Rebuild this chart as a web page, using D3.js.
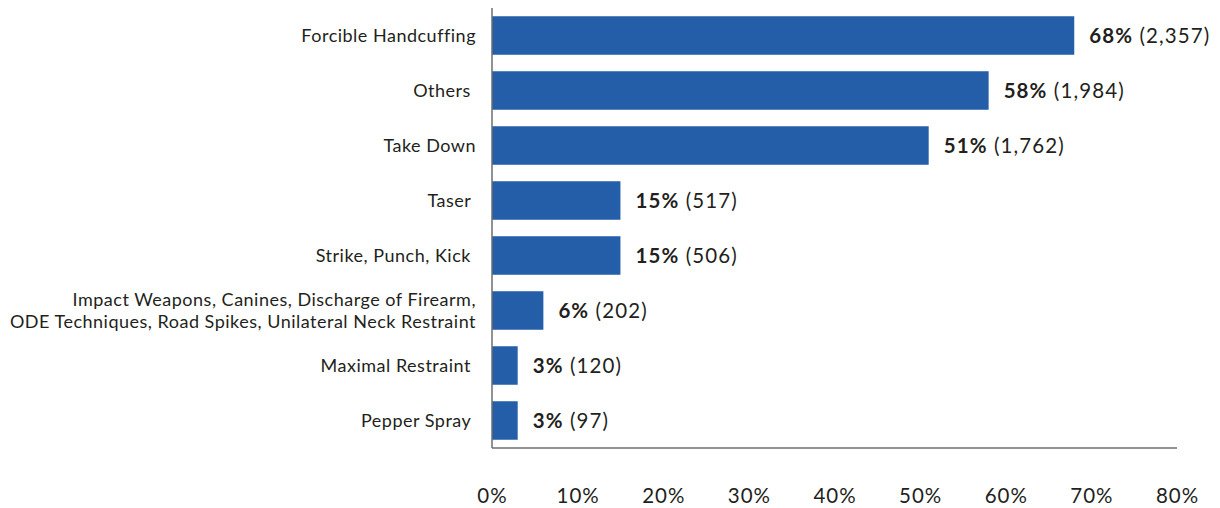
<!DOCTYPE html>
<html>
<head>
<meta charset="utf-8">
<script src="https://cdn.jsdelivr.net/npm/d3@7/dist/d3.min.js"></script>
<style>
  html, body { margin: 0; padding: 0; background: #fff; }
  svg text { font-family: Lato, "Noto Sans", sans-serif; fill: #231f20; white-space: pre; }
</style>
</head>
<body>
<svg id="chart" width="1220" height="508"></svg>
<script>
// Use-of-force types, share of incidents and counts
const categories = [
  "Forcible Handcuffing",
  "Others ",
  "Take Down",
  "Taser ",
  "Strike, Punch, Kick ",
  "Impact Weapons, Canines, Discharge of Firearm,\nODE Techniques, Road Spikes, Unilateral Neck Restraint",
  "Maximal Restraint ",
  "Pepper Spray "
];
const percents = [68, 58, 51, 15, 15, 6, 3, 3];
const counts = [2357, 1984, 1762, 517, 506, 202, 120, 97];
const tickValues = [0, 10, 20, 30, 40, 50, 60, 70, 80];

const svg = d3.select("#chart");
const plotLeft = 492, plotRight = 1177, plotTop = 8, plotBottom = 448;

const x = d3.scaleLinear().domain([0, 80]).range([plotLeft, plotRight]);
const y = d3.scaleBand().domain(categories).range([plotTop, plotBottom])
  .paddingInner(0.3).paddingOuter(0.15);

const data = categories.map((c, i) => ({ cat: c, pct: percents[i], n: counts[i] }));

// bars
svg.append("g").selectAll("rect").data(data).join("rect")
  .attr("x", x(0))
  .attr("y", d => y(d.cat))
  .attr("width", d => x(d.pct) - x(0))
  .attr("height", y.bandwidth())
  .attr("fill", "#255ea8");

// axis lines
svg.append("line").attr("x1", plotLeft).attr("x2", plotLeft).attr("y1", plotTop).attr("y2", plotBottom)
  .attr("stroke", "#6d6e71").attr("stroke-width", 1.5);
svg.append("line").attr("x1", plotLeft).attr("x2", plotRight).attr("y1", plotBottom).attr("y2", plotBottom)
  .attr("stroke", "#6d6e71").attr("stroke-width", 1.5);

// x tick labels
const xAxis = d3.axisBottom(x).tickValues(tickValues).tickFormat(d => d + "%").tickSize(0).tickPadding(0);
const gx = svg.append("g").attr("transform", `translate(0,${plotBottom + 40})`).call(xAxis);
gx.select(".domain").remove();
gx.selectAll("text")
  .attr("font-size", 20.5)
  .attr("letter-spacing", 1)
  .style("font-family", "Lato, 'Noto Sans', sans-serif")
  .attr("fill", "#231f20");

// category labels
const catG = svg.append("g").selectAll("text").data(data).join("text")
  .attr("text-anchor", "end")
  .attr("font-size", 18)
  .attr("letter-spacing", 0.5);
catG.each(function(d) {
  const lines = d.cat.split("\n");
  const cy = y(d.cat) + y.bandwidth() / 2;
  const lh = 22;
  const t = d3.select(this);
  lines.forEach((ln, j) => {
    t.append("tspan")
      .attr("x", plotLeft - 16)
      .attr("y", cy + (j - (lines.length - 1) / 2) * lh)
      .attr("dy", "0.38em")
      .text(ln);
  });
});

// value labels
const fmt = d3.format(",");
const val = svg.append("g").selectAll("text").data(data).join("text")
  .attr("x", d => x(d.pct) + 15)
  .attr("y", d => y(d.cat) + y.bandwidth() / 2)
  .attr("dy", "0.38em")
  .attr("font-size", 20.5)
  .attr("letter-spacing", 1.1);
val.append("tspan").attr("font-weight", "bold").text(d => d.pct + "%");
val.append("tspan").text(d => " (" + fmt(d.n) + ")");
</script>
</body>
</html>
